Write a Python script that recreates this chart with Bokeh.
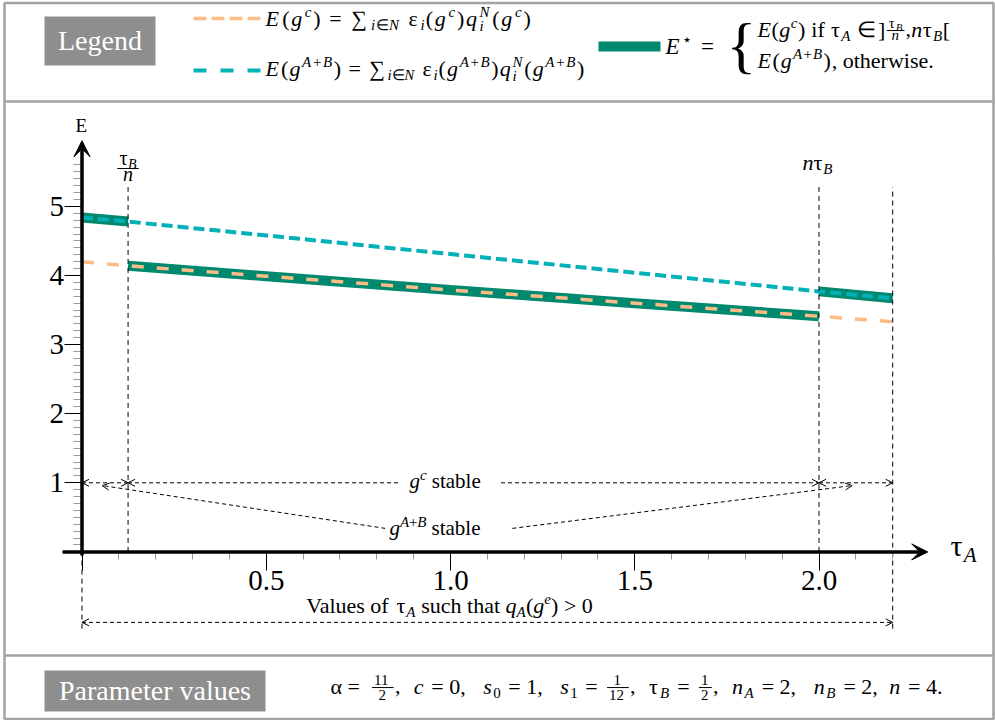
import numpy as np
from collections import OrderedDict
from bokeh.plotting import figure
from bokeh.models import Range1d, FixedTicker, Arrow, OpenHead, VeeHead
from bokeh.core.properties import value
from bokeh.embed import file_html
from bokeh.resources import INLINE

# ---------------- data ----------------
TAU_A = [0.0, 0.125, 0.5, 1.0, 1.5, 2.0, 2.2]
E_GC = [4.20, 4.14, 3.99, 3.79, 3.60, 3.41, 3.33]      # E(g^c)
E_GAB = [4.84, 4.78, 4.58, 4.31, 4.04, 3.77, 3.67]     # E(g^{A+B})
TAU_LOW, TAU_HIGH, TAU_MAX = 0.125, 2.0, 2.2           # tau_B/n, n*tau_B, upper bound
X_TICKS = [0.0, 0.5, 1.0, 1.5, 2.0]
X_TICK_LABELS = ["", "0.5", "1.0", "1.5", "2.0"]
Y_TICKS = [1, 2, 3, 4, 5]
Y_TICK_LABELS = ["1", "2", "3", "4", "5"]
X_MINOR = [k / 10 for k in range(1, 23) if k % 5]
Y_MINOR = [k / 10 for k in range(1, 57) if k % 10]

# ---------------- styles ----------------
GREEN = "#00896E"
CYAN = "#00B1B8"
ORANGE = "#FBBC86"
GRAYBOX = "#8E8E8E"
BORDER = "#A3A3A3"
FONT = "Liberation Serif"

# ---------------- page <-> data mapping ----------------
W, H = 995, 720
X0P, SX = 81.5, 368.5
Y0P, SY = 551.4, 69.1


def X(px):
    return (px - X0P) / SX


def Y(py):
    return (Y0P - py) / SY


p = figure(width=W, height=H, x_range=Range1d(X(0), X(W)),
           y_range=Range1d(Y(H), Y(0)), output_backend="svg",
           toolbar_location=None, min_border=0, outline_line_color=None)
p.grid.visible = False

# ---------------- axes ----------------
xa = p.xaxis[0]
ya = p.yaxis[0]
xa.fixed_location = 0
ya.fixed_location = 0
xa.ticker = FixedTicker(ticks=X_TICKS, minor_ticks=X_MINOR)
ya.ticker = FixedTicker(ticks=Y_TICKS, minor_ticks=Y_MINOR)
xa.major_label_overrides = {t: l for t, l in zip(X_TICKS, X_TICK_LABELS)}
ya.major_label_overrides = {t: l for t, l in zip(Y_TICKS, Y_TICK_LABELS)}
for ax, mo, mi in ((xa, 19, 8), (ya, 18, 9)):
    ax.axis_line_color = None
    ax.major_tick_in = 0
    ax.major_tick_out = mo
    ax.major_tick_line_color = "black"
    ax.major_tick_line_width = 1
    ax.minor_tick_in = 0
    ax.minor_tick_out = mi
    ax.minor_tick_line_color = "#9a9a9a"
    ax.minor_tick_line_width = 1
    ax.major_label_text_font = FONT
    ax.major_label_text_font_size = "29px"
    ax.major_label_text_color = "black"
xa.major_label_standoff = 0
ya.major_label_standoff = 0

# ---------------- frame boxes ----------------
p.quad(left=[X(4)], right=[X(993)], top=[Y(2.5)], bottom=[Y(718.5)],
       fill_color=None, line_color=BORDER, line_width=2.5)
p.multi_line(xs=[[X(4), X(993)], [X(4), X(993)]],
             ys=[[Y(101), Y(101)], [Y(655), Y(655)]], line_color=BORDER, line_width=2.5)
p.quad(left=[X(44), X(44)], right=[X(155), X(265)], top=[Y(16), Y(670)],
       bottom=[Y(65), Y(711)], fill_color=GRAYBOX, line_color=None)

# ---------------- rich text machinery ----------------
WR = {' ': 250, '(': 333, ')': 333, '+': 564, ',': 250, '-': 333, '.': 250, '=': 564,
      '>': 564, '[': 333, ']': 333, '{': 480, 'A': 722, 'B': 667, 'E': 611, 'L': 611,
      'N': 722, 'P': 556, 'V': 722, 'a': 444, 'b': 500, 'c': 444, 'd': 500, 'e': 444,
      'f': 333, 'g': 500, 'h': 500, 'i': 278, 'l': 278, 'm': 778, 'n': 500, 'o': 500,
      'r': 333, 's': 389, 't': 278, 'u': 500, 'v': 500, 'w': 722, 'τ': 440, 'ε': 440,
      'α': 530, '∑': 720, '∈': 670, '⋆': 600}
WI = {' ': 250, 'A': 611, 'B': 611, 'E': 611, 'N': 667, 'c': 444, 'e': 444, 'g': 500,
      'i': 278, 'n': 500, 'q': 500, 's': 389}
MID = 0.33   # rendered text sits this many em below the requested baseline


def tw(s, it, sz):
    tab = WI if it else WR
    return sum(tab.get(c, 500) for c in s) * sz / 1000.0


def R(s):
    return ('t', [(s, False)], 0)


def I(s):
    return ('t', [(s, True)], 0)


def SUP(*pcs):
    return ('t', list(pcs), 1)


def SUB(*pcs):
    return ('t', list(pcs), -1)


def r_(s):
    return (s, False)


def i_(s):
    return (s, True)


def FR(n, d):
    return ('fr', n, d)


def SS(sup, sub):
    return ('ss', sup, sub)


def flat(boxes):
    xx, items, bars = 0.0, [], []
    for w, its, brs in boxes:
        for dx, dy, t, sz, it in its:
            items.append((xx + dx, dy, t, sz, it))
        for a, b, dy in brs:
            bars.append((xx + a, xx + b, dy))
        xx += w
    return xx, items, bars


def build(segs, size):
    boxes = []
    for s in segs:
        k = s[0]
        if k == 't':
            pcs, lvl = s[1], s[2]
            sz = size if lvl == 0 else 0.7 * size
            dy = 0.0 if lvl == 0 else (0.40 * size if lvl > 0 else -0.20 * size)
            items, xx = [], 0.0
            for text, it in pcs:
                lead = len(text) - len(text.lstrip(' '))
                st = text.strip(' ')
                if st:
                    items.append((xx + tw(' ' * lead, it, sz), dy, st, sz, it))
                xx += tw(text, it, sz)
            boxes.append((xx, items, []))
        elif k == 'ss':
            sz = 0.7 * size
            items, ws = [], []
            for pcs, dy in ((s[1], 0.40 * size), (s[2], -0.26 * size)):
                xx = 0.0
                for text, it in pcs:
                    items.append((xx, dy, text, sz, it))
                    xx += tw(text, it, sz)
                ws.append(xx)
            boxes.append((max(ws), items, []))
        elif k == 'fr':
            ss = 0.7 * size
            wn, itn, _ = flat(build(s[1], ss))
            wd, itd, _ = flat(build(s[2], ss))
            pad = 0.08 * size
            wf = max(wn, wd) + 2 * pad
            axis = 0.27 * size
            tall = any(c.isdigit() or c.isupper() for (_, _, t, _, _) in itd for c in t)
            ddy = axis - 0.1 * size - (0.47 if tall else 0.32) * size
            items = []
            for dx, dy, t, sz, it in itn:
                items.append((0.05 * size + dx + (wf - wn) / 2, dy + axis + 0.13 * size, t, sz, it))
            for dx, dy, t, sz, it in itd:
                items.append((0.05 * size + dx + (wf - wd) / 2, dy + ddy, t, sz, it))
            bars = [(0.05 * size, 0.05 * size + wf, axis)]
            boxes.append((wf + 0.1 * size, items, bars))
    return boxes


TEXTS = OrderedDict()
BX0, BX1, BY = [], [], []


def rich(segs, size, x0, base, x1=None, anchor='left', color='black'):
    wt, items, bars = flat(build(segs, size))
    k = 1.0
    if x1 is not None:
        k = (x1 - x0) / wt
    if anchor == 'center':
        x0 = x0 - wt / 2
    for dx, dy, t, sz, it in items:
        key = ("%.0fpx" % sz, 'italic' if it else 'normal', color)
        g = TEXTS.setdefault(key, ([], [], []))
        g[0].append(X(x0 + dx * k))
        g[1].append(Y(base - dy - MID * sz))
        g[2].append(t)
    for a, b, dy in bars:
        BX0.append(X(x0 + a * k))
        BX1.append(X(x0 + b * k))
        BY.append(Y(base - dy))


# ---------------- curves ----------------
x = np.array(TAU_A)
gc = np.array(E_GC)
gab = np.array(E_GAB)
m1 = x <= TAU_LOW
m2 = (x >= TAU_LOW) & (x <= TAU_HIGH)
m3 = x >= TAU_HIGH
p.multi_line(xs=[x[m1].tolist(), x[m2].tolist(), x[m3].tolist()],
             ys=[gab[m1].tolist(), gc[m2].tolist(), gab[m3].tolist()],
             line_color=GREEN, line_width=10)
p.line(TAU_A, E_GC, line_color=ORANGE, line_width=3.5, line_dash="12 13")
p.line(TAU_A, E_GAB, line_color=CYAN, line_width=4, line_dash="11 5")

# vertical guide lines
TOPV, BOTV = 5.28, -1.11
p.segment(x0=[TAU_LOW, TAU_HIGH, TAU_MAX, 0.0], y0=[0, 0, BOTV, BOTV],
          x1=[TAU_LOW, TAU_HIGH, TAU_MAX, 0.0], y1=[TOPV, TOPV, TOPV, 0],
          line_color="black", line_width=1, line_dash="5 4")

# axis arrows
p.add_layout(Arrow(x_start=-0.053, y_start=0, x_end=2.295, y_end=0, line_width=3.5,
                   line_color="black", start=None,
                   end=VeeHead(size=16, fill_color="black", line_color="black")))
p.add_layout(Arrow(x_start=0, y_start=-0.05, x_end=0, y_end=5.95, line_width=3.5,
                   line_color="black", start=None,
                   end=VeeHead(size=16, fill_color="black", line_color="black")))


def arr(xs, ys, xe, ye, start, end):
    hd = lambda: OpenHead(size=7, line_width=1, line_color="black")
    p.add_layout(Arrow(x_start=xs, y_start=ys, x_end=xe, y_end=ye, line_width=1,
                       line_color="black", line_dash="4 3",
                       start=hd() if start else None, end=hd() if end else None))


Y_STAB = 1.0
arr(0.0, Y_STAB, TAU_LOW, Y_STAB, True, True)
arr(TAU_LOW, Y_STAB, 0.858, Y_STAB, True, False)
arr(1.137, Y_STAB, TAU_HIGH, Y_STAB, False, True)
arr(TAU_HIGH, Y_STAB, TAU_MAX, Y_STAB, True, True)
arr(0.823, 0.34, 0.055, 0.96, False, True)
arr(1.168, 0.34, 2.09, 0.96, False, True)
arr(0.0, -1.02, TAU_MAX, -1.02, True, True)

# legend samples
p.line([X(193), X(262)], [Y(18), Y(18)], line_color=ORANGE, line_width=3.5, line_dash="13 5")
p.line([X(193), X(262)], [Y(70), Y(70)], line_color=CYAN, line_width=4, line_dash="13 14")
p.line([X(598), X(660)], [Y(46), Y(46)], line_color=GREEN, line_width=10)

# ---------------- texts ----------------
rich([R("Legend")], 28, 99.5, 49.5, anchor='center', color='white')
rich([R("Parameter values")], 28, 154.5, 699.5, anchor='center', color='white')

F1 = [I("E"), R("("), I("g"), SUP(i_("c")), R(")"), R(" = "), R("∑"),
      SUB(i_("i"), r_("∈"), i_("N")), R(" ε"), SUB(i_("i")), R("("), I("g"), SUP(i_("c")),
      R(")"), I("q"), SS([i_("N")], [i_("i")]), R("("), I("g"), SUP(i_("c")), R(")")]
F2 = [I("E"), R("("), I("g"), SUP(i_("A"), r_("+"), i_("B")), R(")"), R(" = "), R("∑"),
      SUB(i_("i"), r_("∈"), i_("N")), R(" ε"), SUB(i_("i")), R("("), I("g"),
      SUP(i_("A"), r_("+"), i_("B")), R(")"), I("q"), SS([i_("N")], [i_("i")]), R("("),
      I("g"), SUP(i_("A"), r_("+"), i_("B")), R(")")]
rich(F1, 22, 265, 25, x1=532)
rich(F2, 22, 265, 75, x1=585)
rich([I("E"), SUP(r_("⋆")), R(" =")], 23, 665, 54, x1=716)
rich([R("{")], 62, 726, 65)
C1 = [I("E"), R("("), I("g"), SUP(i_("c")), R(")"), R(" if"), R(" τ"), SUB(i_("A")),
      R(" ∈"), R(" ]"), FR([R("τ"), SUB(i_("B"))], [I("n")]), R(","), I("n"), R("τ"),
      SUB(i_("B")), R("[")]
C2 = [I("E"), R("("), I("g"), SUP(i_("A"), r_("+"), i_("B")), R(")"), R(", otherwise.")]
rich(C1, 22, 757, 36, x1=950)
rich(C2, 22, 757, 67, x1=945)

PARAMS = [R("α = "), FR([R("11")], [R("2")]), R(",  "), I("c"), R(" = 0,  "), I("s"),
          SUB(r_("0")), R(" = 1,  "), I("s"), SUB(r_("1")), R(" = "),
          FR([R("1")], [R("12")]), R(",  "), R("τ"), SUB(i_("B")), R(" = "),
          FR([R("1")], [R("2")]), R(",  "), I("n"), SUB(i_("A")), R(" = 2,  "), I("n"),
          SUB(i_("B")), R(" = 2, "), I("n"), R(" = 4.")]
rich(PARAMS, 22, 330, 693, x1=947)

# in-plot labels
rich([R("E")], 19, 80.7, 131, anchor='center')
rich([R("τ"), SUB(i_("A"))], 30, 950, 555)
rich([FR([R("τ"), SUB(i_("B"))], [I("n")])], 28, 127.5, 175.6, anchor='center')
rich([I("n"), R("τ"), SUB(i_("B"))], 22, 802, 169.5)
rich([I("g"), SUP(i_("c")), R(" stable")], 21, 409, 487.3)
rich([I("g"), SUP(i_("A"), r_("+"), i_("B")), R(" stable")], 21, 389, 534.5)
rich([R("Values of "), R("τ"), SUB(i_("A")), R(" such that "), I("q"), SUB(i_("A")),
      R("("), I("g"), SUP(i_("e")), R(")"), R(" > 0")], 22, 449, 612, anchor='center')

for (sz, st, col), (gx, gy, gt) in TEXTS.items():
    p.text(x=gx, y=gy, text=gt, text_font=value(FONT), text_font_size=value(sz),
           text_font_style=st, text_color=col, text_align='left',
           text_baseline='alphabetic')
p.segment(x0=BX0, y0=BY, x1=BX1, y1=BY, line_color="black", line_width=1)

open("out.html", "w").write(file_html(p, INLINE))
